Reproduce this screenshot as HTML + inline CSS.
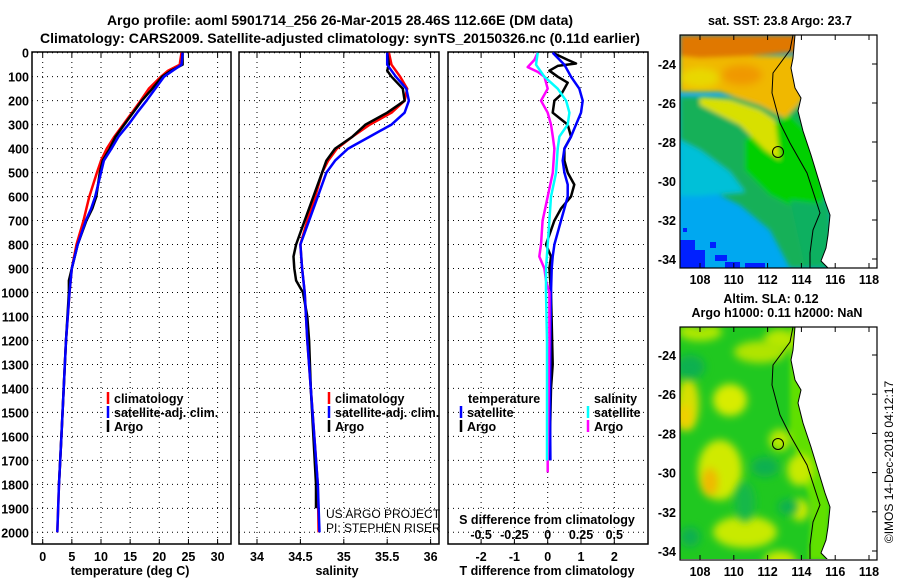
<!DOCTYPE html>
<html><head><meta charset="utf-8"><style>
html,body{margin:0;padding:0;background:#fff;}
svg{display:block;font-family:"Liberation Sans",sans-serif;}
.b{font-weight:bold;font-size:12.5px;}
.t{font-weight:bold;font-size:14px;}
</style></head><body>
<svg id="c" width="900" height="580" viewBox="0 0 900 580">
<defs>
<filter id="bl" x="-5%" y="-5%" width="110%" height="110%"><feGaussianBlur stdDeviation="2.5"/></filter>
<filter id="bl2" x="-30%" y="-30%" width="160%" height="160%"><feGaussianBlur stdDeviation="3.5"/></filter>
<clipPath id="m1"><rect x="680" y="35" width="197" height="233"/></clipPath>
<clipPath id="m2"><rect x="680" y="327" width="197" height="232"/></clipPath>
</defs>
<text class="t" x="340" y="25" text-anchor="middle">Argo profile: aoml 5901714_256 26-Mar-2015 28.46S 112.66E (DM data)</text>
<text class="t" x="340" y="43" text-anchor="middle">Climatology: CARS2009. Satellite-adjusted climatology: synTS_20150326.nc (0.11d earlier)</text>
<g id="p1"></g>
<g id="p2"></g>
<g id="p3"></g>
<g id="maps"></g>
<text x="893" y="462" font-size="12" text-anchor="middle" transform="rotate(-90 893 462)">©IMOS 14-Dec-2018 04:12:17</text>
</svg>
<script>
// ---- data ----
const tClimD=[0,50,75,100,150,200,250,300,350,400,450,500,600,650,700,800,900,1000,1200,1400,1600,1800,2000];
const tClim=[23.8,23.5,21.5,20.3,18.2,16.8,15.3,13.8,12.3,11,10,9.3,8,7.5,7,5.8,5,4.6,4,3.6,3.2,2.8,2.5];
const tSatD=[0,50,75,100,150,200,250,300,350,400,450,500,600,650,700,800,900,1000,1200,1400,1600,1800,2000];
const tSat=[24,23.8,22.3,20.8,19.3,17.8,16.2,14.7,13,11.8,10.5,10,9,8.3,7.4,6,5,4.6,4,3.6,3.2,2.8,2.5];
const tArgoD=[0,50,75,100,150,200,250,300,350,400,450,500,600,650,700,800,900,950,1000,1200,1400,1600,1800];
const tArgo=[24,24,22,20.5,18.8,17,15.5,14,12.5,11.5,10.3,9.8,9.2,8.5,7.5,6,5,4.5,4.5,4,3.6,3.2,2.8];
const sClimD=[0,50,100,150,200,250,300,350,400,450,500,600,700,800,900,1000,1200,1400,1600,1800,2000];
const sClim=[35.52,35.55,35.65,35.73,35.7,35.55,35.3,35.1,34.92,34.82,34.75,34.67,34.58,34.5,34.52,34.55,34.58,34.62,34.66,34.7,34.71];
const sSatD=[0,50,100,150,200,250,300,350,400,450,500,600,700,800,900,1000,1200,1400,1600,1800,2000];
const sSat=[35.5,35.5,35.6,35.72,35.75,35.7,35.55,35.3,35.05,34.9,34.8,34.7,34.6,34.5,34.52,34.55,34.58,34.62,34.66,34.7,34.72];
const sArgoD=[0,50,75,100,150,200,250,300,350,400,450,500,600,700,800,850,900,950,1000,1100,1200,1400,1600,1800,1900];
const sArgo=[35.5,35.52,35.5,35.55,35.68,35.7,35.5,35.25,35.1,34.9,34.8,34.75,34.65,34.55,34.45,34.42,34.43,34.45,34.53,34.58,34.6,34.62,34.65,34.68,34.68];
const dTSatD=[0,50,75,100,150,200,250,300,350,400,450,500,550,600,650,700,750,800,850,900,1000,1200,1500,1700];
const dTSat=[0.15,0.5,0.6,0.7,0.95,1.05,1.0,0.85,0.7,0.5,0.45,0.5,0.6,0.6,0.5,0.4,0.3,0.2,0.15,0.12,0.1,0.08,0.07,0.08];
const dTArgoD=[0,30,45,55,75,100,125,150,175,200,250,300,350,400,450,500,550,600,650,700,800,850,900,1000,1300,1400,1700];
const dTArgo=[0.15,0.6,0.85,0.3,0.05,0.3,0.6,0.5,0.4,0.2,0.15,0.6,0.7,0.5,0.5,0.6,0.8,0.7,0.4,0.2,-0.05,0.1,0.05,0.1,0.15,0.1,0.05];
const dSSatD=[0,50,100,150,200,250,300,350,400,500,600,700,800,900,1000,1200,1700];
const dSSat=[-0.075,-0.088,-0.025,0.075,0.138,0.163,0.15,0.088,0.075,0.063,0.025,0.013,0,-0.013,-0.013,-0.005,-0.005];
const dSArgoD=[0,30,60,80,100,150,200,250,300,350,400,500,600,700,800,850,900,950,1000,1200,1700,1750];
const dSArgo=[-0.075,-0.1,-0.15,-0.075,-0.025,0,-0.05,0,0.025,0.038,0.05,0.038,0,-0.038,-0.05,-0.063,-0.025,-0.013,0.013,0.013,0,0];
const depthTicks=[0,100,200,300,400,500,600,700,800,900,1000,1100,1200,1300,1400,1500,1600,1700,1800,1900,2000];
const tTicks=[0,5,10,15,20,25,30];
const sTicks=[34,34.5,35,35.5,36];
const dTTicks=[-2,-1,0,1,2];
const dSTicks=[-0.5,-0.25,0,0.25,0.5];
const lonTicks=[108,110,112,114,116,118];
const latTicks=[-24,-26,-28,-30,-32,-34];
// ---- scales ----
const NS='http://www.w3.org/2000/svg';
const yD=d=>52.7+d*0.2398;
const xT=t=>42.7+t*5.83;
const xS=s=>257+(s-34)*86.8;
const xDT=t=>547.7+t*33.3;
const xDS=s=>547.7+s*133.2;
const xLon=l=>700+(l-108)*16.9;
const yLat1=l=>64+(-24-l)*19.5;
const yLat2=l=>355+(-24-l)*19.6;
const PT=52, PB=544;
function mk(p,tag,at,txt){const e=document.createElementNS(NS,tag);for(const k in at)e.setAttribute(k,at[k]);if(txt!==undefined)e.textContent=txt;p.appendChild(e);return e;}
function frame(g,x0,x1,name){
  depthTicks.forEach(d=>{const l=mk(g,'line',{x1:x0,x2:x1,y1:yD(d),y2:yD(d),stroke:'#000','stroke-width':1,'stroke-dasharray':'1,4'});
  
  });
  const r=mk(g,'rect',{x:x0,y:PT,width:x1-x0,height:PB-PT,fill:'none',stroke:'#000','stroke-width':1.5});
  
  
}
function vgrid(g,ticks,f){ticks.forEach(t=>{const l=mk(g,'line',{x1:f(t),x2:f(t),y1:PT,y2:PB,stroke:'#000','stroke-width':1,'stroke-dasharray':'1,4'});
  
  
  mk(g,'line',{x1:f(t),x2:f(t),y1:PB,y2:PB-5,stroke:'#000'});mk(g,'line',{x1:f(t),x2:f(t),y1:PT,y2:PT+5,stroke:'#000'});});}
function line(g,ds,vs,f,col,name){const pts=ds.map((d,i)=>f(vs[i]).toFixed(1)+','+yD(d).toFixed(1)).join(' ');
  const p=mk(g,'polyline',{points:pts,fill:'none',stroke:col,'stroke-width':2.5,'stroke-linejoin':'round'});
  
  }
function leg(g,x,y,col,txt,name){mk(g,'line',{x1:x,x2:x,y1:y-11,y2:y+1,stroke:col,'stroke-width':2.5});
  const t=mk(g,'text',{x:x+6,y:y,class:'b'},txt);
  
  }
// panel 1
const p1=document.getElementById('p1');
frame(p1,32,231,'temperature');vgrid(p1,tTicks,xT);
depthTicks.forEach(d=>{const t=mk(p1,'text',{x:29,y:yD(d)+5,'text-anchor':'end',class:'b'},String(d));
  
  });
tTicks.forEach(v=>{const t=mk(p1,'text',{x:xT(v),y:561,'text-anchor':'middle',class:'b'},String(v));
  
  });
mk(p1,'text',{x:130,y:575,'text-anchor':'middle',class:'b'},'temperature (deg C)');
line(p1,tClimD,tClim,xT,'#f00','temp-climatology-line');
line(p1,tArgoD,tArgo,xT,'#000','temp-argo-line');
line(p1,tSatD,tSat,xT,'#00f','temp-satellite-line');
leg(p1,108,403,'#f00','climatology','legend-climatology');
leg(p1,108,417,'#00f','satellite-adj. clim.','legend-satellite');
leg(p1,108,431,'#000','Argo','legend-argo');
// panel 2
const p2=document.getElementById('p2');
frame(p2,239,439,'salinity');vgrid(p2,sTicks,xS);
sTicks.forEach(v=>{const t=mk(p2,'text',{x:xS(v),y:561,'text-anchor':'middle',class:'b'},String(v));
  
  });
mk(p2,'text',{x:337,y:575,'text-anchor':'middle',class:'b'},'salinity');
line(p2,sClimD,sClim,xS,'#f00','sal-climatology-line');
line(p2,sArgoD,sArgo,xS,'#000','sal-argo-line');
line(p2,sSatD,sSat,xS,'#00f','sal-satellite-line');
leg(p2,329,403,'#f00','climatology','legend-climatology');
leg(p2,329,417,'#00f','satellite-adj. clim.','legend-satellite');
leg(p2,329,431,'#000','Argo','legend-argo');
mk(p2,'text',{x:326,y:518,'font-size':12},'US ARGO PROJECT');
mk(p2,'text',{x:326,y:532,'font-size':12},'PI: STEPHEN RISER');
// panel 3
const p3=document.getElementById('p3');
frame(p3,448,648,'difference');vgrid(p3,dTTicks,xDT);
dTTicks.forEach(v=>{const t=mk(p3,'text',{x:xDT(v),y:561,'text-anchor':'middle',class:'b'},String(v));
  
  });
mk(p3,'text',{x:547,y:575,'text-anchor':'middle',class:'b'},'T difference from climatology');
mk(p3,'text',{x:547,y:524,'text-anchor':'middle',class:'b'},'S difference from climatology');
dSTicks.forEach(v=>{const t=mk(p3,'text',{x:xDS(v),y:539,'text-anchor':'middle',class:'b'},String(v));
  
  });
line(p3,dTArgoD,dTArgo,xDT,'#000','t-diff-argo-line');
line(p3,dTSatD,dTSat,xDT,'#00f','t-diff-satellite-line');
line(p3,dSArgoD,dSArgo,xDS,'#f0f','s-diff-argo-line');
line(p3,dSSatD,dSSat,xDS,'#0ff','s-diff-satellite-line');
mk(p3,'text',{x:468,y:403,class:'b'},'temperature');
leg(p3,461,417,'#00f','satellite','legend-t-satellite');
leg(p3,461,431,'#000','Argo','legend-t-argo');
mk(p3,'text',{x:594,y:403,class:'b'},'salinity');
leg(p3,588,417,'#0ff','satellite','legend-s-satellite');
leg(p3,588,431,'#f0f','Argo','legend-s-argo');
// maps
const mg=document.getElementById('maps');
const coast=[[795,35],[793,58],[791,68],[795,88],[801,98],[798,111],[803,131],[811,155],[818,178],[825,201],[830,215],[828,235],[826,248],[821,261],[828,268]];
const iso=[[793,35],[790,50],[773,73],[772,93],[780,123],[790,143],[807,173],[820,213],[813,230],[810,253],[810,268]];
function sh(pts,dy){return pts.map(p=>p[0]+','+(p[1]+dy)).join(' ');}
function map(dy,clip,base,regions,title){
  const g=mk(mg,'g',{'clip-path':'url(#'+clip+')'});
  
  
  mk(g,'rect',{x:680,y:35+dy,width:197,height:233,fill:base});
  const gb=mk(g,'g',{filter:'url(#bl)'});
  regions.forEach(r=>{
    if(r[0]==='e')mk(gb,'ellipse',{cx:r[1],cy:r[2]+dy,rx:r[3],ry:r[4],fill:r[5],filter:'url(#bl2)'});
    else if(r[0]==='r')mk(g,'rect',{x:r[1],y:r[2]+dy,width:r[3],height:r[4],fill:r[5]});
    else mk(gb,'polygon',{points:sh(r[1],dy),fill:r[0]});});
  const land=coast.concat([[900,268],[900,35]]);
  mk(g,'polygon',{points:sh(land,dy),fill:'#fff'});
  mk(g,'polyline',{points:sh(coast,dy),fill:'none',stroke:'#000','stroke-width':1});
  mk(g,'polyline',{points:sh(iso,dy),fill:'none',stroke:'#000','stroke-width':1});
  mk(g,'circle',{cx:778,cy:152+dy,r:5.5,fill:'none',stroke:'#000','stroke-width':1});
  mk(mg,'rect',{x:680,y:35+dy,width:197,height:233,fill:'none',stroke:'#000','stroke-width':1.2});
}
map(0,'m1','#00a8f0',[
  ['#18b058',[[680,97],[800,97],[830,220],[815,268],[790,268],[770,230],[740,205],[710,190],[680,180]]],
  ['#00c0d8',[[680,140],[700,150],[730,172],[745,192],[700,196],[680,196]]],
  ['#00d000',[[745,140],[790,115],[815,140],[825,200],[800,210],[770,195],[745,170]]],
  ['#10b060',[[790,200],[830,205],[832,268],[805,268]]],
  ['#d8e000',[[700,97],[730,100],[760,110],[775,120],[780,160],[765,150],[740,125],[700,105]]],
  ['#f0b800',[[680,56],[800,56],[803,100],[785,118],[760,105],[720,92],[680,92]]],
  ['#e07800',[[680,35],[800,35],[798,52],[750,56],[700,58],[680,56]]],
  ['e',700,78,20,10,'#e8d800'],
  ['e',742,75,20,10,'#f09800'],
  ['r',680,240,15,28,'#0020ff'],['r',695,250,10,18,'#0020ff'],['r',710,242,6,6,'#0020ff'],
  ['r',715,255,12,6,'#0020ff'],['r',725,262,15,6,'#0020ff'],['r',745,263,20,5,'#0020ff'],['r',683,228,4,4,'#0020ff']
],'sst-map');
map(292,'m2','#20c820',[
  ['#60e000',[[790,35],[800,35],[830,215],[826,268],[808,268],[812,215],[790,143]]],
  ['e',700,40,22,9,'#b0e800'],['e',780,48,16,11,'#b8e800'],['e',730,108,17,16,'#d8ec00'],
  ['e',688,112,11,26,'#d8e000'],['e',684,125,8,13,'#f0d000'],
  ['e',720,178,22,30,'#d0ea00'],['e',710,190,8,14,'#f0b800'],
  ['e',780,148,11,11,'#b8e800'],['e',800,178,13,16,'#c8ea00'],['e',745,240,32,16,'#c8ea00'],
  ['e',800,218,9,11,'#d0ea00'],['e',780,268,16,9,'#c8e800'],['e',760,60,26,11,'#b0e400'],
  ['e',690,75,15,12,'#10b050'],['e',765,175,14,10,'#10b050'],['e',788,215,10,8,'#10b050'],
  ['e',690,245,10,10,'#10b050'],['e',745,210,10,20,'#18b848'],['e',700,25,10,10,'#18b848']
],'sla-map');
mk(mg,'text',{x:780,y:25,'text-anchor':'middle',class:'b'},'sat. SST: 23.8 Argo: 23.7');
mk(mg,'text',{x:771,y:303,'text-anchor':'middle',class:'b'},'Altim. SLA: 0.12');
mk(mg,'text',{x:777,y:317,'text-anchor':'middle',class:'b'},'Argo h1000: 0.11 h2000: NaN');
[[0,yLat1],[292,yLat2]].forEach(([dy,fy])=>{
  lonTicks.forEach(l=>{const t=mk(mg,'text',{x:xLon(l),y:284+dy,'text-anchor':'middle',class:'b'},String(l));
    
    
    mk(mg,'line',{x1:xLon(l),x2:xLon(l),y1:268+dy,y2:263+dy,stroke:'#000'});mk(mg,'line',{x1:xLon(l),x2:xLon(l),y1:35+dy,y2:40+dy,stroke:'#000'});});
  latTicks.forEach(l=>{const t=mk(mg,'text',{x:676,y:fy(l)+5,'text-anchor':'end',class:'b'},String(l));
    
    
    mk(mg,'line',{x1:872,x2:877,y1:fy(l),y2:fy(l),stroke:'#000'});});
});
</script>
</body></html>
